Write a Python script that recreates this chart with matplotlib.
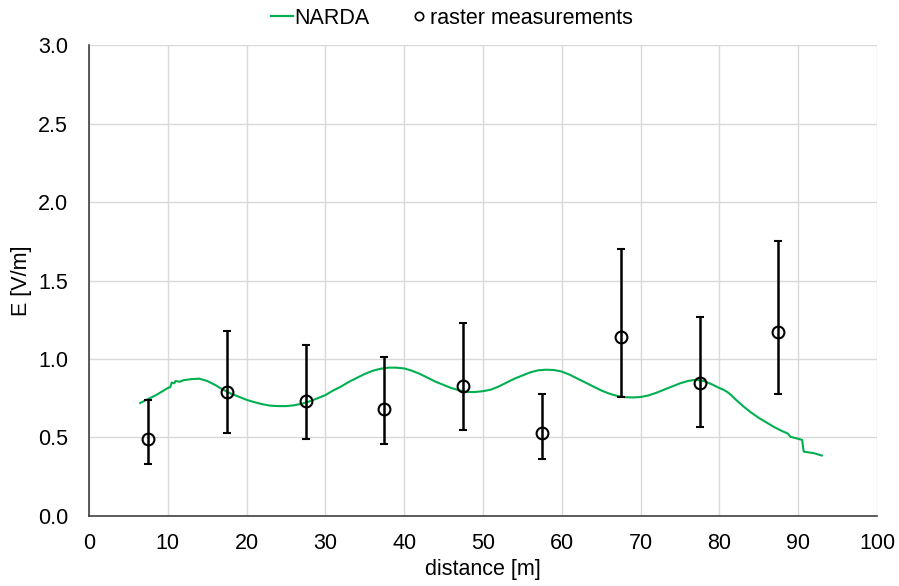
import matplotlib
matplotlib.use('Agg')
import matplotlib.pyplot as plt
from matplotlib.lines import Line2D
from matplotlib.ticker import FormatStrFormatter
import numpy as np

plt.rcParams['font.family'] = ['Liberation Sans', 'DejaVu Sans']

# NARDA probe trace along the path
narda_x = [6.5, 7.5, 8.5, 9.5, 10.0, 10.3, 10.5, 10.8, 11.0, 11.5, 12.0, 13.0, 14.0,
           15.0, 16.0, 17.0, 18.0, 19.0, 20.0, 21.0, 22.0, 23.0, 24.0, 25.0, 26.0,
           27.0, 28.0, 29.0, 30.0, 31.0, 32.0, 33.0, 34.0, 35.0, 36.0, 37.0, 38.0,
           39.0, 40.0, 41.0, 42.0, 43.0, 44.0, 45.0, 46.0, 47.0, 48.0, 49.0, 50.0,
           51.0, 52.0, 53.0, 54.0, 55.0, 56.0, 57.0, 58.0, 59.0, 60.0, 61.0, 62.0,
           63.0, 64.0, 65.0, 66.0, 67.0, 68.0, 69.0, 70.0, 71.0, 72.0, 73.0, 74.0,
           75.0, 76.0, 77.0, 78.0, 79.0, 80.0, 80.5, 81.0, 81.5, 82.0, 83.0, 84.0,
           85.0, 86.0, 87.0, 88.0, 88.7, 89.0, 90.5, 90.7, 92.0, 93.0]
narda_e = [0.72, 0.745, 0.77, 0.80, 0.815, 0.82, 0.85, 0.845, 0.86, 0.855, 0.865, 0.872, 0.875,
           0.86, 0.835, 0.805, 0.78, 0.76, 0.74, 0.725, 0.712, 0.703, 0.70, 0.70, 0.705,
           0.715, 0.73, 0.75, 0.77, 0.80, 0.825, 0.855, 0.88, 0.905, 0.925, 0.938, 0.945,
           0.945, 0.94, 0.925, 0.905, 0.88, 0.855, 0.835, 0.815, 0.80, 0.79, 0.79, 0.795,
           0.805, 0.825, 0.85, 0.875, 0.895, 0.915, 0.928, 0.932, 0.93, 0.92, 0.90, 0.875,
           0.85, 0.825, 0.80, 0.78, 0.765, 0.757, 0.755, 0.758, 0.768, 0.785, 0.805, 0.825,
           0.845, 0.86, 0.868, 0.86, 0.84, 0.815, 0.805, 0.79, 0.77, 0.745, 0.70, 0.66,
           0.625, 0.595, 0.565, 0.54, 0.525, 0.505, 0.485, 0.41, 0.40, 0.385]

# raster measurements with min/max range
raster_x = [7.5, 17.5, 27.5, 37.5, 47.5, 57.5, 67.5, 77.5, 87.5]
raster_e = [0.49, 0.79, 0.73, 0.68, 0.83, 0.53, 1.14, 0.85, 1.17]
raster_hi = [0.74, 1.18, 1.09, 1.01, 1.23, 0.78, 1.70, 1.27, 1.75]
raster_lo = [0.33, 0.53, 0.49, 0.46, 0.55, 0.36, 0.76, 0.57, 0.78]

FS = 15.5
GREEN = '#00B050'

fig = plt.figure(figsize=(8.99, 5.86), dpi=100)
ax = fig.add_axes([0.099, 0.1195, 0.8765, 0.8035])

ax.plot(narda_x, narda_e, color=GREEN, lw=1.5, zorder=3)

e = np.array(raster_e)
yerr = [e - np.array(raster_lo), np.array(raster_hi) - e]
ax.errorbar(raster_x, raster_e, yerr=yerr, fmt='o', mfc='none', mec='black', mew=1.5,
            ms=8.5, ecolor='black', elinewidth=1.8, capsize=3, capthick=1.8, zorder=4)

ax.set_xlim(0, 100)
ax.set_ylim(0, 3.0)
ax.set_xticks(np.arange(0, 101, 10))
ax.set_yticks(np.arange(0, 3.01, 0.5))
ax.yaxis.set_major_formatter(FormatStrFormatter('%.1f'))
ax.tick_params(length=0, labelsize=FS, colors='black')
ax.tick_params(axis='y', pad=15)
ax.tick_params(axis='x', pad=12)
ax.grid(True, color='#d9d9d9', lw=1)
ax.set_axisbelow(True)
for s in ['top', 'right']:
    ax.spines[s].set_visible(False)
for s in ['left', 'bottom']:
    ax.spines[s].set_color('#404040')
    ax.spines[s].set_linewidth(1.2)

ax.set_xlabel('distance [m]', fontsize=FS, labelpad=4)
ax.set_ylabel('E [V/m]', fontsize=FS, labelpad=4)

handles = [Line2D([], [], color=GREEN, lw=1.6),
           Line2D([], [], ls='none', marker='o', mfc='none', mec='black', mew=1.2, ms=6)]
fig.legend(handles, ['NARDA', 'raster measurements'], loc='upper center',
           bbox_to_anchor=(0.503, 1.02), ncol=2, frameon=False, fontsize=FS,
           handlelength=1.0, handletextpad=0.05, columnspacing=1.8)

fig.savefig('out.png', dpi=100)
